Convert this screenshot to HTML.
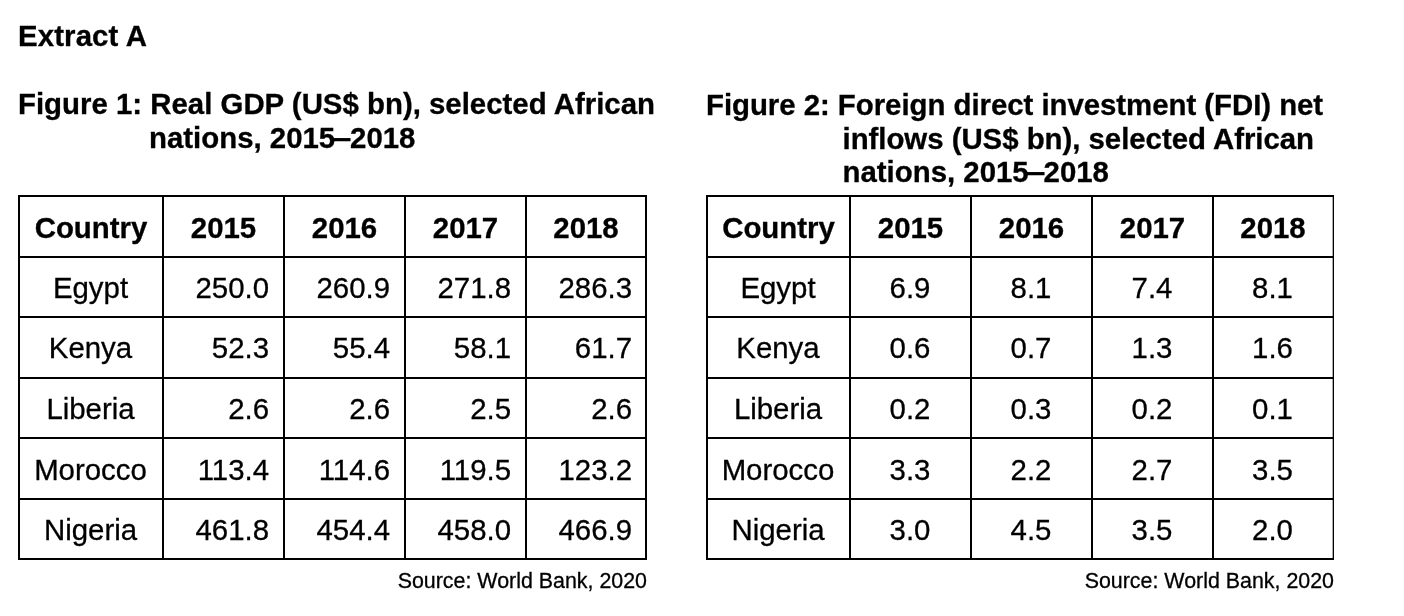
<!DOCTYPE html>
<html><head><meta charset="utf-8"><title>Extract A</title>
<style>
html,body{margin:0;padding:0;background:#fff;}
body{width:1404px;height:616px;position:relative;overflow:hidden;font-family:"Liberation Sans",sans-serif;color:#000;font-size:29.4px;line-height:34px;-webkit-text-stroke:0.3px #000;}
.l{position:absolute;background:#000;}
.t{position:absolute;white-space:nowrap;}
.b{font-weight:bold;}
.c{position:absolute;white-space:nowrap;text-align:center;height:34px;}
.r{position:absolute;white-space:nowrap;text-align:right;height:34px;}
.d{display:inline-block;transform:scaleX(1.2);transform-origin:right center;margin-right:-1.5px;}
.s{position:absolute;white-space:nowrap;text-align:right;font-size:21.4px;line-height:26px;}
#w{position:absolute;left:0;top:0;width:1404px;height:616px;will-change:transform;}
</style></head><body><div id="w">

<div class="t b" style="left:18px;top:19px;letter-spacing:0.12px">Extract A</div>
<div class="t b" style="left:18px;top:87px">Figure 1: Real GDP (US$ bn), selected African</div>
<div class="t b" style="left:149px;top:121px">nations, 2015<span class="d">–</span>2018</div>
<div class="t b" style="left:706px;top:88px;letter-spacing:-0.04px">Figure 2: Foreign direct investment (FDI) net</div>
<div class="t b" style="left:842.5px;top:122px;letter-spacing:-0.03px">inflows (US$ bn), selected African</div>
<div class="t b" style="left:842.5px;top:155px">nations, 2015<span class="d">–</span>2018</div>
<div class="l" style="left:18px;top:195px;width:2px;height:365px"></div>
<div class="l" style="left:162px;top:195px;width:2px;height:365px"></div>
<div class="l" style="left:283px;top:195px;width:2px;height:365px"></div>
<div class="l" style="left:404px;top:195px;width:2px;height:365px"></div>
<div class="l" style="left:525px;top:195px;width:2px;height:365px"></div>
<div class="l" style="left:645px;top:195px;width:2px;height:365px"></div>
<div class="l" style="left:18px;top:195px;width:629px;height:2px"></div>
<div class="l" style="left:18px;top:256px;width:629px;height:2px"></div>
<div class="l" style="left:18px;top:316px;width:629px;height:2px"></div>
<div class="l" style="left:18px;top:377px;width:629px;height:2px"></div>
<div class="l" style="left:18px;top:437px;width:629px;height:2px"></div>
<div class="l" style="left:18px;top:498px;width:629px;height:2px"></div>
<div class="l" style="left:18px;top:558px;width:629px;height:2px"></div>
<div class="c b" style="left:20px;top:211px;width:142px">Country</div>
<div class="c b" style="left:164px;top:211px;width:119px">2015</div>
<div class="c b" style="left:285px;top:211px;width:119px">2016</div>
<div class="c b" style="left:406px;top:211px;width:119px">2017</div>
<div class="c b" style="left:527px;top:211px;width:118px">2018</div>
<div class="c" style="left:19.5px;top:271px;width:142px">Egypt</div>
<div class="r" style="left:164px;top:271px;width:105px">250.0</div>
<div class="r" style="left:285px;top:271px;width:105px">260.9</div>
<div class="r" style="left:406px;top:271px;width:105px">271.8</div>
<div class="r" style="left:527px;top:271px;width:105px">286.3</div>
<div class="c" style="left:19.5px;top:331px;width:142px">Kenya</div>
<div class="r" style="left:164px;top:331px;width:105px">52.3</div>
<div class="r" style="left:285px;top:331px;width:105px">55.4</div>
<div class="r" style="left:406px;top:331px;width:105px">58.1</div>
<div class="r" style="left:527px;top:331px;width:105px">61.7</div>
<div class="c" style="left:19.5px;top:392px;width:142px">Liberia</div>
<div class="r" style="left:164px;top:392px;width:105px">2.6</div>
<div class="r" style="left:285px;top:392px;width:105px">2.6</div>
<div class="r" style="left:406px;top:392px;width:105px">2.5</div>
<div class="r" style="left:527px;top:392px;width:105px">2.6</div>
<div class="c" style="left:19.5px;top:453px;width:142px">Morocco</div>
<div class="r" style="left:164px;top:453px;width:105px">113.4</div>
<div class="r" style="left:285px;top:453px;width:105px">114.6</div>
<div class="r" style="left:406px;top:453px;width:105px">119.5</div>
<div class="r" style="left:527px;top:453px;width:105px">123.2</div>
<div class="c" style="left:19.5px;top:513px;width:142px">Nigeria</div>
<div class="r" style="left:164px;top:513px;width:105px">461.8</div>
<div class="r" style="left:285px;top:513px;width:105px">454.4</div>
<div class="r" style="left:406px;top:513px;width:105px">458.0</div>
<div class="r" style="left:527px;top:513px;width:105px">466.9</div>
<div class="l" style="left:706px;top:195px;width:2px;height:365px"></div>
<div class="l" style="left:849px;top:195px;width:2px;height:365px"></div>
<div class="l" style="left:970px;top:195px;width:2px;height:365px"></div>
<div class="l" style="left:1091px;top:195px;width:2px;height:365px"></div>
<div class="l" style="left:1212px;top:195px;width:2px;height:365px"></div>
<div class="l" style="left:1332px;top:195px;width:1px;height:365px;background:#aaa"></div>
<div class="l" style="left:1333px;top:195px;width:1px;height:365px"></div>
<div class="l" style="left:706px;top:195px;width:628px;height:2px"></div>
<div class="l" style="left:706px;top:256px;width:628px;height:2px"></div>
<div class="l" style="left:706px;top:316px;width:628px;height:2px"></div>
<div class="l" style="left:706px;top:377px;width:628px;height:2px"></div>
<div class="l" style="left:706px;top:437px;width:628px;height:2px"></div>
<div class="l" style="left:706px;top:498px;width:628px;height:2px"></div>
<div class="l" style="left:706px;top:558px;width:628px;height:2px"></div>
<div class="c b" style="left:708px;top:211px;width:141px">Country</div>
<div class="c b" style="left:851px;top:211px;width:119px">2015</div>
<div class="c b" style="left:972px;top:211px;width:119px">2016</div>
<div class="c b" style="left:1093px;top:211px;width:119px">2017</div>
<div class="c b" style="left:1214px;top:211px;width:118px">2018</div>
<div class="c" style="left:707.5px;top:271px;width:141px">Egypt</div>
<div class="c" style="left:850.5px;top:271px;width:119px">6.9</div>
<div class="c" style="left:971.5px;top:271px;width:119px">8.1</div>
<div class="c" style="left:1092.5px;top:271px;width:119px">7.4</div>
<div class="c" style="left:1213.5px;top:271px;width:118px">8.1</div>
<div class="c" style="left:707.5px;top:331px;width:141px">Kenya</div>
<div class="c" style="left:850.5px;top:331px;width:119px">0.6</div>
<div class="c" style="left:971.5px;top:331px;width:119px">0.7</div>
<div class="c" style="left:1092.5px;top:331px;width:119px">1.3</div>
<div class="c" style="left:1213.5px;top:331px;width:118px">1.6</div>
<div class="c" style="left:707.5px;top:392px;width:141px">Liberia</div>
<div class="c" style="left:850.5px;top:392px;width:119px">0.2</div>
<div class="c" style="left:971.5px;top:392px;width:119px">0.3</div>
<div class="c" style="left:1092.5px;top:392px;width:119px">0.2</div>
<div class="c" style="left:1213.5px;top:392px;width:118px">0.1</div>
<div class="c" style="left:707.5px;top:453px;width:141px">Morocco</div>
<div class="c" style="left:850.5px;top:453px;width:119px">3.3</div>
<div class="c" style="left:971.5px;top:453px;width:119px">2.2</div>
<div class="c" style="left:1092.5px;top:453px;width:119px">2.7</div>
<div class="c" style="left:1213.5px;top:453px;width:118px">3.5</div>
<div class="c" style="left:707.5px;top:513px;width:141px">Nigeria</div>
<div class="c" style="left:850.5px;top:513px;width:119px">3.0</div>
<div class="c" style="left:971.5px;top:513px;width:119px">4.5</div>
<div class="c" style="left:1092.5px;top:513px;width:119px">3.5</div>
<div class="c" style="left:1213.5px;top:513px;width:118px">2.0</div>
<div class="s" style="left:347px;top:568px;width:300px">Source: World Bank, 2020</div>
<div class="s" style="left:1034px;top:568px;width:300px">Source: World Bank, 2020</div>
</div></body></html>
